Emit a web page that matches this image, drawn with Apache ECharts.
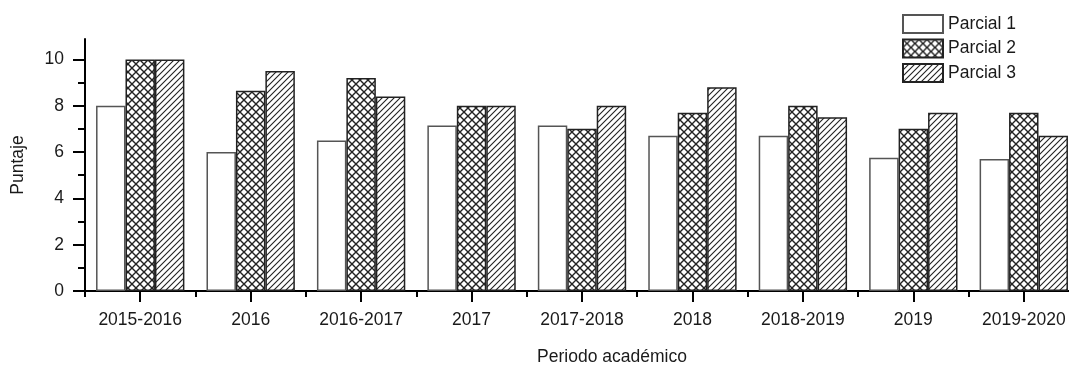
<!DOCTYPE html>
<html>
<head>
<meta charset="utf-8">
<script src="https://cdn.jsdelivr.net/npm/echarts@6/dist/echarts.min.js"></script>
<style>
  html, body { margin: 0; padding: 0; background: #fff; }
  #chart { width: 1069px; height: 365px; }
</style>
</head>
<body>
<div id="chart"></div>
<script>
// Academic periods and the average score of each partial exam
const categories = ['2015-2016', '2016', '2016-2017', '2017', '2017-2018', '2018', '2018-2019', '2019', '2019-2020'];
const parcial1 = [8.0, 6.0, 6.5, 7.15, 7.15, 6.7, 6.7, 5.75, 5.7];
const parcial2 = [10.0, 8.65, 9.2, 8.0, 7.0, 7.7, 8.0, 7.0, 7.7];
const parcial3 = [10.0, 9.5, 8.4, 8.0, 8.0, 8.8, 7.5, 7.7, 6.7];
const seriesNames = ['Parcial 1', 'Parcial 2', 'Parcial 3'];
const yTicks = [0, 2, 4, 6, 8, 10];

const FONT = "'Liberation Sans', Arial, sans-serif";
const INK = '#1a1a1a';
const FS = 17.5;

// Fill patterns: cross-hatch and forward diagonal hatch
function makePattern(size, draw) {
  const c = document.createElement('canvas');
  c.width = size; c.height = size;
  const ctx = c.getContext('2d');
  ctx.fillStyle = '#fff';
  ctx.fillRect(0, 0, size, size);
  ctx.strokeStyle = '#222';
  draw(ctx, size);
  return { image: c, repeat: 'repeat' };
}
const crossHatch = makePattern(8, (ctx, s) => {
  ctx.lineWidth = 1.4;
  ctx.beginPath();
  ctx.moveTo(0, 0); ctx.lineTo(s, s);
  ctx.moveTo(0, s); ctx.lineTo(s, 0);
  ctx.stroke();
});
const diagHatch = makePattern(6, (ctx, s) => {
  ctx.lineWidth = 1.1;
  ctx.beginPath();
  ctx.moveTo(0, s); ctx.lineTo(s, 0);
  ctx.moveTo(-1, 1); ctx.lineTo(1, -1);
  ctx.moveTo(s - 1, s + 1); ctx.lineTo(s + 1, s - 1);
  ctx.stroke();
});

const fills = ['#ffffff', crossHatch, diagHatch];
const borders = ['#555', '#222', '#222'];
const values = [parcial1, parcial2, parcial3];

const chart = echarts.init(document.getElementById('chart'), null, { renderer: 'canvas' });

chart.setOption({
  backgroundColor: '#fff',
  animation: false,
  textStyle: { fontFamily: FONT, color: INK },
  grid: { left: 85, right: -10, top: 39, bottom: 74, containLabel: false, outerBoundsMode: 'none' },
  legend: {
    orient: 'vertical',
    left: 902,
    top: 14,
    padding: 0,
    itemWidth: 40,
    itemHeight: 18,
    itemGap: 4.5,
    icon: 'rect',
    data: seriesNames,
    textStyle: { fontFamily: FONT, fontSize: FS, color: INK }
  },
  xAxis: [
    {
      type: 'category',
      data: categories,
      position: 'bottom',
      axisLine: { show: true, lineStyle: { color: '#000', width: 2 } },
      axisTick: { show: true, interval: 0, alignWithLabel: false, length: 6, lineStyle: { color: '#000', width: 2 } },
      axisLabel: { interval: 0, margin: 20, fontSize: FS, color: INK, fontFamily: FONT },
      name: 'Periodo académico',
      nameLocation: 'middle',
      nameGap: 57,
      nameTextStyle: { fontSize: FS, color: INK, fontFamily: FONT, padding: [0, 0, 0, 60] },
      splitLine: { show: false }
    },
    {
      type: 'category',
      data: categories,
      position: 'bottom',
      offset: 0,
      axisLine: { show: false },
      axisTick: { show: true, interval: 0, alignWithLabel: true, length: 11, lineStyle: { color: '#000', width: 2 } },
      axisLabel: { show: false },
      splitLine: { show: false }
    }
  ],
  yAxis: {
    type: 'value',
    min: 0,
    max: 10.88,
    interval: 2,
    name: 'Puntaje',
    nameLocation: 'middle',
    nameGap: 58,
    nameTextStyle: { fontSize: FS, color: INK, fontFamily: FONT },
    axisLine: { show: true, lineStyle: { color: '#000', width: 2 } },
    axisTick: { show: true, length: 12, customValues: yTicks, lineStyle: { color: '#000', width: 2 } },
    minorTick: { show: true, splitNumber: 2, length: 7, lineStyle: { color: '#000', width: 2 } },
    axisLabel: { customValues: yTicks, margin: 21, fontSize: FS, color: INK, fontFamily: FONT },
    splitLine: { show: false },
    minorSplitLine: { show: false }
  },
  series: seriesNames.map((name, i) => ({
    name: name,
    type: 'bar',
    xAxisIndex: 0,
    data: values[i],
    barGap: '0%',
    barCategoryGap: '20%',
    itemStyle: { color: fills[i], borderColor: borders[i], borderWidth: 1.5 }
  }))
});
</script>
</body>
</html>
